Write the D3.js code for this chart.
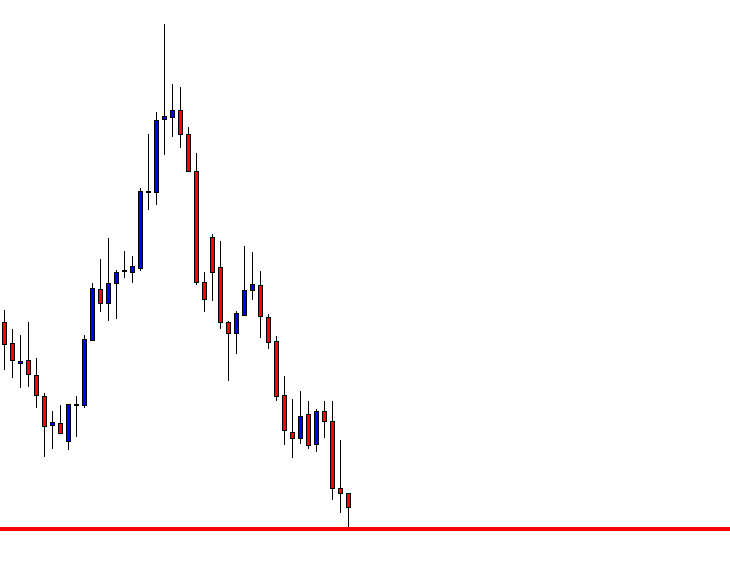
<!DOCTYPE html>
<html>
<head>
<meta charset="utf-8">
<script src="https://cdn.jsdelivr.net/npm/d3@7"></script>
<style>
  html, body { margin: 0; padding: 0; background: #ffffff; }
  svg { display: block; }
</style>
</head>
<body>
<svg id="chart" width="730" height="566"></svg>
<script>
// Candle data (price units)
const opens  = [278,257,237,240,225,204,175,177,159,195,195,260,311,297,317,329,328,332,408,408,481,483,490,466,429,318,363,333,278,267,285,310,315,283,259,205,168,162,186,156,189,179,112,107];
const highs  = [290,271,265,278,242,207,189,195,196,204,265,317,341,362,330,349,344,412,466,488,576,516,513,473,447,328,366,359,279,289,354,348,329,286,264,224,201,209,199,191,199,199,160,107];
const lows   = [230,222,212,213,192,143,151,166,150,163,192,259,288,279,281,322,317,329,390,395,445,463,452,429,315,288,299,271,219,246,284,300,262,251,199,155,142,156,151,148,162,100, 87, 73];
const closes = [256,240,239,226,205,174,178,167,196,196,261,312,297,317,328,330,334,409,409,480,484,490,466,429,318,301,328,278,267,287,310,316,284,258,204,170,162,184,155,189,179,112,107, 93];
const supportLevel = [71];

const svg = d3.select("#chart");
const W = 730, H = 566;

const idx = d3.range(opens.length);
const x = d3.scalePoint().domain(idx).range([4.5, 348.5]);
const y = d3.scaleLinear().domain([34, 600]).range([H, 0]);

const candles = idx.map(i => ({i, o: opens[i], h: highs[i], l: lows[i], c: closes[i]}));
const snap = v => Math.round(v) + 0.5;

// support line
svg.selectAll("line.support").data(supportLevel).enter().append("line")
  .attr("class", "support")
  .attr("x1", 0).attr("x2", W)
  .attr("y1", d => y(d)).attr("y2", d => y(d))
  .attr("stroke", "#ff0000").attr("stroke-width", 4);

const g = svg.append("g");

// wicks
g.selectAll("line.wick").data(candles).enter().append("line")
  .attr("class", "wick")
  .attr("x1", d => x(d.i)).attr("x2", d => x(d.i))
  .attr("y1", d => Math.round(y(d.h)))
  .attr("y2", d => Math.round(y(d.l)))
  .attr("stroke", "#000").attr("stroke-width", 1)
  .attr("shape-rendering", "crispEdges");

// bodies
g.selectAll("rect.body").data(candles).enter().append("rect")
  .attr("class", "body")
  .attr("x", d => x(d.i) - 2)
  .attr("width", 4)
  .attr("y", d => snap(y(Math.max(d.o, d.c))))
  .attr("height", d => Math.max(1, Math.round(y(Math.min(d.o, d.c))) - Math.round(y(Math.max(d.o, d.c)))))
  .attr("fill", d => d.c >= d.o ? "#0000ff" : "#ff0000")
  .attr("stroke", "#000").attr("stroke-width", 1)
  .attr("shape-rendering", "crispEdges");
</script>
</body>
</html>
